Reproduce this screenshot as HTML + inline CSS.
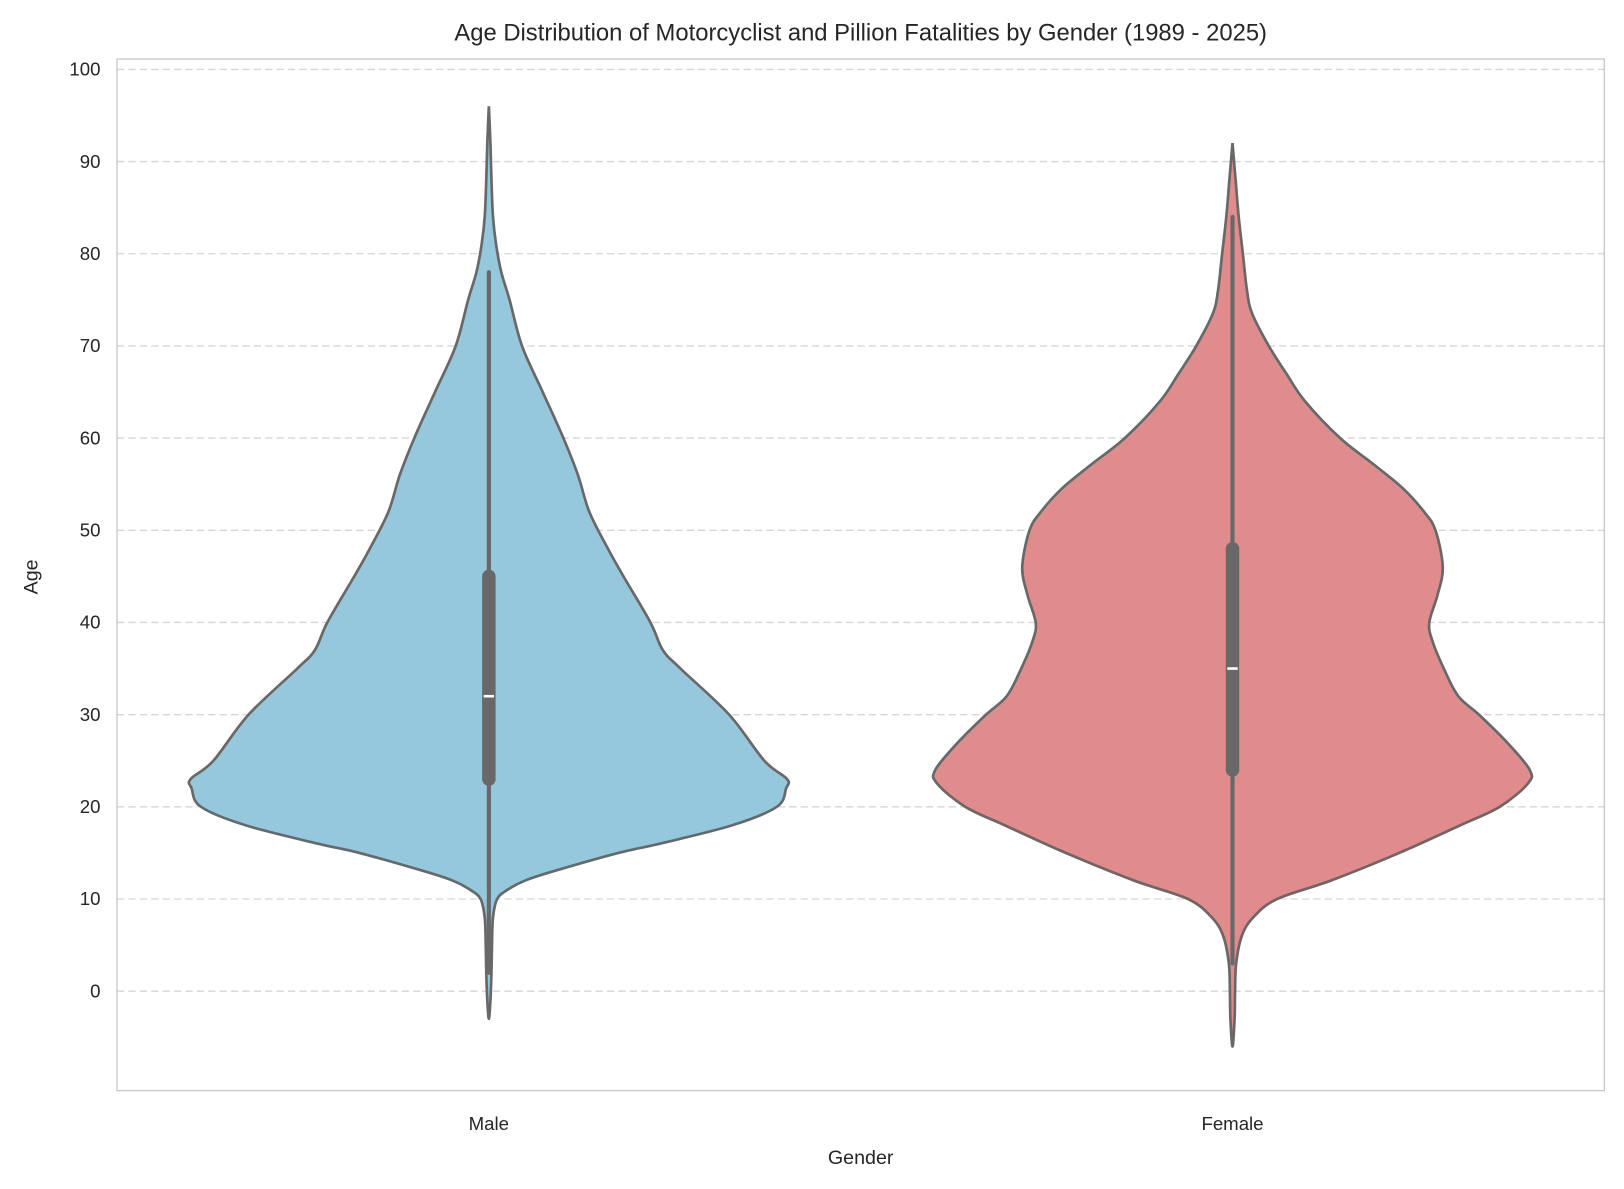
<!DOCTYPE html>
<html><head><meta charset="utf-8"><style>
body{margin:0;background:#fff}
svg{display:block}
text{font-family:"Liberation Sans",Arial,sans-serif;fill:#262626}
</style></head><body>
<svg id="s" width="1624" height="1189" viewBox="0 0 1568 1148" preserveAspectRatio="none" xmlns="http://www.w3.org/2000/svg">
<rect width="1568" height="1148" fill="#fff"/>
<text x="831" y="39" font-size="23" text-anchor="middle">Age Distribution of Motorcyclist and Pillion Fatalities by Gender (1989 - 2025)</text>
<g id="grid" stroke="#d6d6d6" stroke-width="1.3" stroke-dasharray="7,4"></g>
<g id="ticks" font-size="18" text-anchor="end"></g>
<g id="v"></g>
<rect x="113" y="57" width="1436" height="996" fill="none" stroke="#c8c8c8" stroke-width="1.3"/>
<text x="472" y="1091" font-size="18" text-anchor="middle">Male</text>
<text x="1190" y="1091" font-size="18" text-anchor="middle">Female</text>
<text x="831" y="1124" font-size="19" text-anchor="middle">Gender</text>
<text x="36" y="557" font-size="19" text-anchor="middle" transform="rotate(-90 36 557)">Age</text>
</svg>
<script>
var NS="http://www.w3.org/2000/svg";
function Y(a){return 957-8.9*a;}
var g=document.getElementById('grid'),t=document.getElementById('ticks');
for(var a=0;a<=100;a+=10){
 var l=document.createElementNS(NS,'line');l.setAttribute('x1',113);l.setAttribute('x2',1549);
 l.setAttribute('y1',Y(a));l.setAttribute('y2',Y(a));g.appendChild(l);
 var tx=document.createElementNS(NS,'text');tx.setAttribute('x',97);tx.setAttribute('y',Y(a)+6);tx.textContent=a;t.appendChild(tx);
}
function cr(pts){var d="M"+pts[0][0]+","+pts[0][1];
 for(var i=0;i<pts.length-1;i++){var p0=pts[i-1]||pts[i],p1=pts[i],p2=pts[i+1],p3=pts[i+2]||p2;
  d+=" C"+(p1[0]+(p2[0]-p0[0])/6)+","+(p1[1]+(p2[1]-p0[1])/6)+" "+(p2[0]-(p3[0]-p1[0])/6)+","+(p2[1]-(p3[1]-p1[1])/6)+" "+p2[0]+","+p2[1];}
 return d;}
function violin(cx,prof,fill,box){
 var right=prof.map(function(p){return[cx+p[1],Y(p[0])]});
 var left=prof.slice().reverse().map(function(p){return[cx-p[1],Y(p[0])]});
 var pts=right.concat(left.slice(1));
 var p=document.createElementNS(NS,'path');p.setAttribute('d',cr(pts)+"Z");
 p.setAttribute('fill',fill);p.setAttribute('stroke','#686868');p.setAttribute('stroke-width','2.6');
 var v=document.getElementById('v');v.appendChild(p);
 var w=document.createElementNS(NS,'line');w.setAttribute('x1',cx);w.setAttribute('x2',cx);w.setAttribute('y1',Y(box[0]));w.setAttribute('y2',Y(box[4]));
 w.setAttribute('stroke','#686868');w.setAttribute('stroke-width','4');w.setAttribute('stroke-linecap','round');v.appendChild(w);
 var b=document.createElementNS(NS,'line');b.setAttribute('x1',cx);b.setAttribute('x2',cx);b.setAttribute('y1',Y(box[1]));b.setAttribute('y2',Y(box[3]));
 b.setAttribute('stroke','#686868');b.setAttribute('stroke-width','13');b.setAttribute('stroke-linecap','round');v.appendChild(b);
 var m=document.createElementNS(NS,'line');m.setAttribute('x1',cx-5);m.setAttribute('x2',cx+5);m.setAttribute('y1',Y(box[2]));m.setAttribute('y2',Y(box[2]));
 m.setAttribute('stroke','#fff');m.setAttribute('stroke-width','2.5');v.appendChild(m);
}
violin(472,[[96,0],[92,1.5],[88,2.5],[84,4],[81,7],[78,12],[75,20],[70,32],[65,52],[60,72],[56,86],[52,97],[48,115],[45,130],[40,156],[37,168],[35,185],[30,232],[25,266],[23,288],[22,287],[20,278],[18,235],[16,165],[15,125],[13,62],[12,35],[11,18],[10,8],[8,4],[5,3],[2,2.5],[-1,1.5],[-3,0]],
 "#95c8dd",[2,23,32,45,78]);
violin(1190,[[92,0],[88,3],[84,6],[80,10],[76,14],[73.5,19],[70,35],[67,52],[64,70],[60,104],[57,138],[54.5,165],[52,185],[50,196],[46,203],[43,198],[40,190],[38,193],[35,204],[32,218],[30,238],[27,265],[24,287],[22.5,285],[20,258],[18,220],[15,161],[12,95],[10,43],[8,20],[6,9],[3,3.5],[0,2.5],[-3,2],[-6,0]],
 "#e18c8c",[3,24,35,48,84]);
</script>
</body></html>
